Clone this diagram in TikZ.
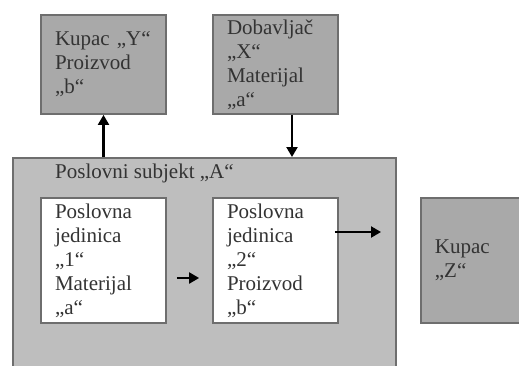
\documentclass[tikz,border=0pt]{standalone}
\usepackage{fontspec}
\setmainfont{Liberation Serif}
\usetikzlibrary{positioning,arrows.meta}

\definecolor{outergray}{HTML}{BEBEBE}
\definecolor{partygray}{HTML}{A9A9A9}
\definecolor{edgegray}{HTML}{6E6E6E}
\definecolor{textgray}{HTML}{333333}

\tikzset{
  partybox/.style={draw=edgegray, fill=partygray, line width=1.8pt, inner sep=0pt,
    minimum width=\boxwidth pt, minimum height=\boxheight pt,
    text width=\boxwidth pt-28pt, align=left},
  unitbox/.style={partybox, fill=white},
  flow/.style={line width=2.2pt, -{Triangle[length=10pt,width=11pt]}},
}

\begin{document}
\begin{tikzpicture}[x=1pt, y=-1pt, font=\fontsize{21}{24}\selectfont, text=textgray]

    % Drawing Parameters
    \pgfmathsetmacro{\boxwidth}{125}%
    \pgfmathsetmacro{\boxheight}{99}%
    \pgfmathsetmacro{\unitheight}{125}%

    \useasboundingbox (0,0) rectangle (519,365);

    % Outer subject
    \node[draw=edgegray, fill=outergray, line width=1.8pt, minimum width=383pt,
      minimum height=220pt, anchor=north west] (subjA) at (12,157) {};
    \node[anchor=north west, inner sep=0pt] (subjAlabel) at (55,164) {Poslovni subjekt „A“};

    % Customers and supplier
    \node[partybox] (kupacY) at (103.5,64.5) {Kupac „Y“\\Proizvod\\„b“};
    \node[partybox] (dobavljac) at (275.5,64.5) {Dobavljač\\„X“\\Materijal\\„a“};
    \node[partybox, minimum height=\unitheight pt, anchor=west] (kupacZ) at (420,260.5) {Kupac\\„Z“};

    % Business units
    \node[unitbox, minimum height=\unitheight pt] (unit1) at (103.5,260.5)
      {Poslovna\\jedinica\\„1“\\Materijal\\„a“};
    \node[unitbox, minimum height=\unitheight pt] (unit2) at (275.5,260.5)
      {Poslovna\\jedinica\\„2“\\Proizvod\\„b“};

    % Flows
    \coordinate (outA) at (kupacY.south |- subjA.north);
    \coordinate (inA) at (292,0 |- subjA.north);
    \coordinate (outZ) at (381,232);
    \draw[flow] (outA) -- (kupacY.south);
    \draw[flow] (dobavljac.south -| inA) -- (inA);
    \draw[flow, shorten <=10pt, shorten >=13pt] (unit1.east |- 0,278) -- (unit2.west |- 0,278);
    \draw[flow] (unit2.east |- outZ) ++(-4,0) -- (outZ);
  \end{tikzpicture}
\end{document}
